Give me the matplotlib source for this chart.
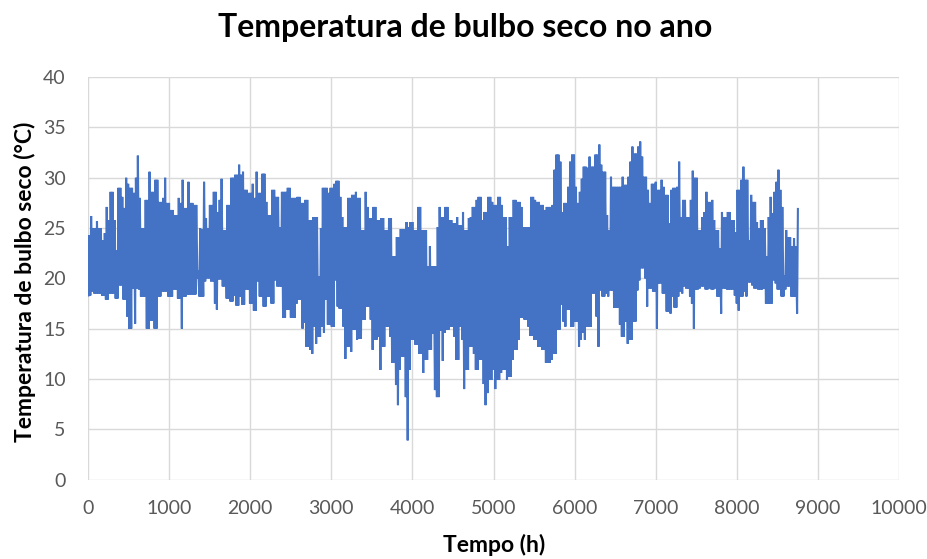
import numpy as np
import matplotlib
matplotlib.use("Agg")
import matplotlib.pyplot as plt

# daily maximum dry-bulb temperature (°C), day 0 .. 364
TMAX = [
    24.3, 26.2, 25.0, 25.0, 25.7, 25.0, 25.0, 23.8, 24.5, 27.1,
    25.8, 28.6, 28.6, 25.8, 22.8, 29.0, 29.0, 28.1, 27.0, 30.0,
    29.4, 29.0, 29.0, 28.5, 30.0, 32.2, 28.0, 25.0, 25.0, 27.8,
    27.8, 30.6, 28.6, 28.6, 29.8, 29.8, 27.6, 27.6, 28.0, 30.0,
    27.5, 27.5, 26.8, 26.8, 26.3, 26.3, 28.0, 27.5, 29.8, 27.0,
    27.0, 29.6, 27.5, 27.5, 27.3, 27.3, 20.8, 25.0, 24.9, 29.6,
    26.0, 25.0, 27.3, 27.3, 28.6, 28.6, 26.6, 27.8, 29.9, 24.8,
    24.8, 27.3, 27.3, 30.0, 30.0, 30.3, 30.3, 31.3, 30.3, 30.6,
    28.8, 28.8, 28.5, 28.5, 29.4, 28.0, 30.6, 28.5, 28.5, 30.4,
    30.4, 27.6, 26.3, 26.3, 28.8, 28.8, 28.1, 28.1, 25.1, 28.6,
    28.6, 28.6, 29.0, 29.0, 28.0, 28.0, 28.0, 28.1, 28.1, 27.5,
    27.5, 27.8, 27.8, 25.8, 25.8, 26.1, 26.1, 26.1, 20.2, 25.0,
    29.0, 29.0, 29.0, 28.5, 29.0, 29.0, 29.4, 29.7, 29.7, 28.1,
    26.1, 25.1, 25.1, 28.0, 28.0, 28.3, 28.3, 28.6, 28.0, 28.0,
    24.8, 24.8, 28.6, 27.1, 26.0, 26.0, 27.1, 27.1, 25.8, 25.8,
    26.0, 26.0, 24.8, 24.8, 26.0, 26.0, 22.2, 22.2, 24.1, 24.1,
    24.9, 24.9, 24.9, 25.6, 25.1, 25.6, 25.6, 24.8, 24.8, 27.1,
    27.1, 24.8, 24.8, 24.8, 21.2, 23.2, 21.2, 21.2, 21.2, 25.1,
    27.1, 26.1, 26.1, 27.1, 27.1, 25.8, 25.8, 25.5, 25.5, 26.1,
    25.3, 25.3, 26.6, 24.8, 24.8, 26.0, 26.1, 27.1, 27.1, 27.8,
    28.1, 28.1, 25.8, 26.6, 26.6, 28.1, 28.1, 27.6, 27.3, 27.3,
    28.1, 28.1, 27.3, 26.1, 26.1, 23.2, 26.1, 26.1, 27.8, 27.8,
    27.6, 27.6, 27.1, 25.1, 25.1, 25.1, 25.1, 28.1, 28.1, 27.8,
    27.6, 27.6, 27.3, 27.3, 26.8, 27.1, 27.1, 27.1, 27.3, 30.8,
    32.3, 32.3, 31.6, 26.6, 27.5, 27.5, 29.1, 31.6, 32.3, 32.3,
    29.1, 27.5, 28.6, 29.9, 31.1, 31.1, 31.0, 32.1, 31.1, 31.1,
    32.3, 32.3, 33.3, 31.3, 30.6, 30.6, 26.3, 24.8, 30.1, 29.1,
    29.1, 29.1, 29.1, 29.1, 30.1, 29.3, 29.3, 30.1, 31.6, 33.1,
    32.4, 32.4, 33.1, 33.6, 32.1, 30.1, 30.1, 28.8, 27.5, 29.4,
    29.4, 29.6, 28.8, 28.8, 29.8, 29.1, 28.3, 28.3, 25.5, 28.8,
    29.0, 29.0, 29.1, 31.6, 26.1, 27.8, 27.8, 26.1, 26.1, 27.8,
    30.7, 30.0, 30.0, 24.8, 24.8, 26.1, 26.6, 28.6, 27.6, 27.6,
    27.8, 25.8, 24.8, 24.8, 23.0, 26.6, 26.1, 26.1, 26.6, 26.6,
    25.8, 25.8, 24.6, 28.8, 28.8, 29.8, 31.1, 29.8, 29.8, 23.8,
    28.3, 27.6, 27.6, 25.6, 25.0, 25.8, 25.8, 25.0, 22.2, 26.1,
    28.1, 26.5, 28.6, 29.6, 30.8, 28.8, 27.1, 20.3, 24.8, 24.1,
    24.1, 23.2, 24.0, 23.2, 26.9,
]

# daily minimum dry-bulb temperature (°C), day 0 .. 364
TMIN = [
    18.3, 18.3, 18.7, 18.5, 18.5, 18.5, 18.5, 18.3, 18.3, 17.9,
    17.9, 18.5, 18.5, 18.5, 18.0, 18.0, 19.3, 19.3, 17.9, 17.9,
    16.2, 15.0, 15.0, 19.0, 15.5, 19.0, 18.9, 18.2, 18.2, 18.2,
    15.0, 15.0, 15.8, 15.8, 15.0, 15.0, 18.2, 18.2, 18.7, 18.7,
    18.7, 18.2, 18.2, 18.2, 18.9, 18.9, 18.0, 18.0, 15.0, 18.2,
    18.2, 18.4, 18.4, 18.4, 18.4, 18.4, 20.0, 18.2, 18.2, 18.2,
    19.7, 20.0, 20.0, 19.7, 19.7, 17.5, 16.9, 19.9, 19.9, 19.2,
    19.2, 18.0, 18.0, 17.7, 17.7, 18.3, 17.3, 17.3, 18.2, 17.4,
    17.4, 18.9, 18.9, 17.5, 17.5, 16.8, 16.8, 19.7, 18.2, 18.2,
    17.2, 17.2, 18.2, 18.2, 17.5, 17.5, 19.8, 19.2, 19.2, 19.2,
    16.1, 16.1, 16.9, 16.9, 16.1, 16.1, 16.1, 17.5, 17.9, 17.9,
    15.0, 15.6, 13.2, 13.2, 12.9, 12.5, 15.2, 13.5, 14.2, 14.2,
    15.2, 14.6, 17.9, 15.4, 15.4, 15.2, 15.2, 19.8, 17.2, 17.0,
    17.0, 15.2, 12.0, 13.2, 13.2, 12.7, 14.9, 14.9, 13.9, 14.0,
    14.0, 15.9, 15.9, 17.2, 17.2, 15.9, 12.9, 13.9, 13.9, 14.2,
    10.9, 13.2, 13.2, 15.2, 15.2, 14.2, 11.6, 11.6, 9.4, 7.4,
    10.9, 12.2, 12.2, 8.2, 3.9, 10.9, 13.9, 13.9, 13.4, 13.4,
    12.5, 12.5, 10.6, 11.9, 11.9, 12.9, 12.9, 14.5, 8.9, 8.2,
    8.2, 14.8, 11.8, 14.6, 14.9, 14.9, 15.2, 15.2, 14.2, 11.9,
    11.9, 15.2, 13.9, 9.0, 10.9, 10.9, 13.2, 13.2, 12.5, 10.9,
    10.9, 11.9, 11.9, 9.5, 7.4, 8.6, 9.9, 9.9, 10.9, 9.0,
    9.9, 9.9, 10.6, 10.9, 10.9, 9.9, 10.2, 10.2, 11.9, 12.9,
    12.9, 13.9, 16.1, 16.1, 15.9, 15.9, 15.2, 14.3, 14.3, 13.9,
    13.9, 13.2, 13.2, 12.9, 12.9, 11.6, 11.6, 11.6, 11.9, 12.5,
    12.5, 14.9, 14.9, 17.4, 15.7, 15.2, 16.9, 16.9, 15.2, 15.2,
    15.7, 15.7, 13.2, 13.9, 14.6, 13.9, 15.2, 15.2, 15.2, 18.5,
    18.5, 16.2, 13.2, 18.8, 18.2, 18.2, 18.5, 18.2, 18.8, 18.8,
    17.1, 17.1, 17.1, 15.4, 14.2, 14.2, 15.7, 13.5, 13.9, 13.9,
    15.7, 15.7, 18.8, 19.8, 21.0, 21.0, 20.0, 17.2, 19.0, 19.0,
    18.7, 18.7, 15.0, 19.5, 19.5, 18.5, 18.5, 16.7, 16.7, 16.5,
    18.2, 17.1, 17.1, 18.2, 18.7, 18.5, 19.2, 19.0, 19.0, 18.2,
    17.5, 15.0, 18.9, 18.9, 19.0, 19.2, 19.2, 18.9, 18.9, 19.0,
    18.9, 18.9, 19.0, 18.2, 18.2, 16.5, 19.0, 19.0, 18.9, 18.9,
    18.9, 18.9, 18.3, 17.5, 16.8, 18.2, 18.2, 18.7, 18.2, 19.6,
    19.6, 19.3, 19.0, 19.0, 18.9, 18.9, 18.9, 19.0, 17.5, 17.5,
    17.5, 17.5, 19.8, 19.5, 18.9, 18.9, 18.2, 18.2, 18.9, 19.2,
    19.2, 18.2, 18.2, 18.2, 16.5,
]

XTICKS = list(range(0, 10001, 1000))
YTICKS = list(range(0, 41, 5))

# hourly series: early-morning minimum and afternoon maximum of each day
days = np.arange(len(TMAX))
hours = np.column_stack([days * 24 + 5, days * 24 + 15]).ravel()
temps = np.column_stack([TMIN, TMAX]).ravel()

plt.rcParams['font.family'] = ['Lato', 'DejaVu Sans']

fig = plt.figure(figsize=(9.28, 5.59), dpi=100)
ax = fig.add_axes([0.0948, 0.142, 0.8742, 0.720])

ax.plot(hours, temps, color='#4472C4', linewidth=1.5, solid_joinstyle='miter')

ax.set_xlim(0, 10000)
ax.set_ylim(0, 40)
ax.set_xticks(XTICKS)
ax.set_yticks(YTICKS)
ax.grid(True, color='#D9D9D9', linewidth=1.0)
ax.set_axisbelow(True)
for s in ax.spines.values():
    s.set_visible(False)
ax.tick_params(length=0, labelsize=14, labelcolor='#595959')
ax.tick_params(axis='y', pad=16)
ax.tick_params(axis='x', pad=15)

fig.text(0.501, 1 - 37 / 559, 'Temperatura de bulbo seco no ano',
         ha='center', va='baseline', fontsize=23, fontweight='bold', color='black')
fig.text(0.532, 1 - 552 / 559, 'Tempo (h)',
         ha='center', va='baseline', fontsize=16.5, fontweight='bold', color='black')
fig.text(0.027, 1 - 282 / 559, 'Temperatura de bulbo seco (°C)', rotation=90,
         ha='center', va='center', fontsize=16.5, fontweight='bold', color='black')

fig.savefig('out.png', dpi=100, facecolor='white')
